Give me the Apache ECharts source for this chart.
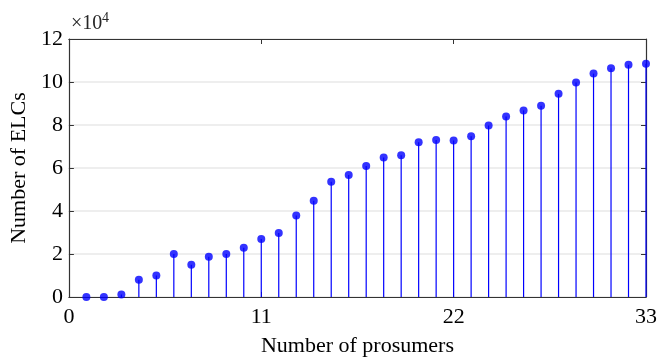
<!DOCTYPE html>
<html><head><meta charset="utf-8">
<script src="https://cdn.jsdelivr.net/npm/echarts@6/dist/echarts.min.js"></script>
<style>html,body{margin:0;padding:0;background:#fff}#c{width:671px;height:362px}</style>
</head><body><div id="c"></div>
<script>
var prosumers = [1,2,3,4,5,6,7,8,9,10,11,12,13,14,15,16,17,18,19,20,21,22,23,24,25,26,27,28,29,30,31,32,33];
var elcs = [0,0,1200,8000,10000,20000,15000,18700,20000,22900,27000,29800,37900,44800,53600,56800,60900,64900,65900,72000,73000,72800,74800,79800,83900,86800,88900,94500,99800,103900,106400,108000,108500];
var xTicks = [0,11,22,33];
var yTicks = [0,2,4,6,8,10,12];

var FONT = '"Liberation Serif","DejaVu Serif",serif';
var AX = '#333333';
var pts = prosumers.map(function(p,i){return [p, elcs[i]];});
var chart = echarts.init(document.getElementById('c'));
function ax(extra){
  return Object.assign({
    axisLine:{show:true,onZero:false,lineStyle:{color:AX,width:1.2}},
    axisTick:{show:true,inside:true,length:5,lineStyle:{color:AX}},
    splitLine:{show:false}
  }, extra);
}
chart.setOption({
  animation:false,
  grid:{left:68,right:25,top:39,bottom:59,show:false},
  xAxis:[
    ax({type:'value',min:xTicks[0],max:xTicks[xTicks.length-1],interval:11,position:'bottom',
      axisLabel:{fontFamily:FONT,fontSize:22,color:'#000',margin:9},
      name:'Number of prosumers',nameLocation:'middle',nameGap:38,
      nameTextStyle:{fontFamily:FONT,fontSize:22,color:'#000'}}),
    ax({type:'value',min:xTicks[0],max:xTicks[xTicks.length-1],interval:11,position:'top',axisLabel:{show:false}})
  ],
  yAxis:[
    ax({type:'value',min:0,max:yTicks[yTicks.length-1]*10000,interval:20000,position:'left',
      axisLabel:{fontFamily:FONT,fontSize:22,color:'#000',margin:6,formatter:function(v){return String(v/10000);}},
      splitLine:{show:true,lineStyle:{color:'#e8e8e8',width:1.5}},
      name:'Number of ELCs',nameLocation:'middle',nameGap:33,
      nameTextStyle:{fontFamily:FONT,fontSize:22,color:'#000'}}),
    ax({type:'value',min:0,max:yTicks[yTicks.length-1]*10000,interval:20000,position:'right',axisLabel:{show:false}})
  ],
  graphic:[
    {type:'text',x:71,y:34,style:{text:'×10',fontFamily:FONT,fontSize:20,fill:'#262626',textVerticalAlign:'bottom',verticalAlign:'bottom'}},
    {type:'text',x:102,y:25,style:{text:'4',fontFamily:FONT,fontSize:14,fill:'#262626',textVerticalAlign:'bottom',verticalAlign:'bottom'}}
  ],
  series:[
    {type:'custom',xAxisIndex:0,yAxisIndex:0,data:pts,z:2,
      renderItem:function(params,api){
        var top=api.coord([api.value(0),api.value(1)]);
        var bot=api.coord([api.value(0),0]);
        return {type:'line',shape:{x1:top[0],y1:top[1],x2:bot[0],y2:bot[1]},style:{stroke:'#0000ff',lineWidth:1.2}};
      }},
    {type:'scatter',xAxisIndex:0,yAxisIndex:0,data:pts,symbol:'circle',symbolSize:8,z:3,
      itemStyle:{color:'#0000ff'}}
  ]
});
</script></body></html>
